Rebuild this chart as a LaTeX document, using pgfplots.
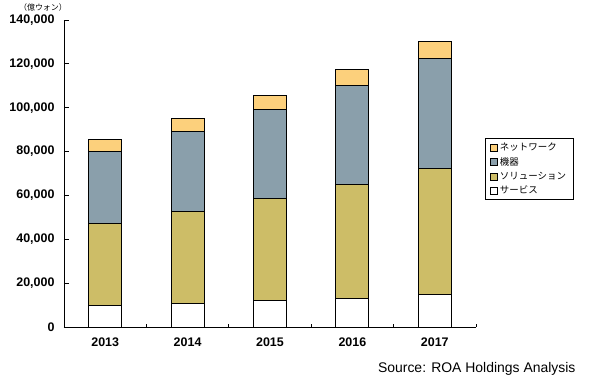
\documentclass[border=0pt]{standalone}
\usepackage{pgfplots}
\pgfplotsset{compat=1.18}
\usepackage{fontspec}
\setmainfont{Liberation Sans}
\newfontfamily\jp{Noto Sans CJK JP}
\definecolor{cnet}{RGB}{252,208,124}
\definecolor{cdev}{RGB}{138,159,171}
\definecolor{csol}{RGB}{205,189,103}
\begin{document}
\begin{tikzpicture}
\path[use as bounding box] (-64bp,-52bp) rectangle (525bp,327bp);
\begin{axis}[
  at={(0,0)}, anchor=south west,
  scale only axis, width=412bp, height=307bp,
  ybar stacked, bar width=33bp,
  xmin=-0.5, xmax=4.5, ymin=0, ymax=140000,
  axis lines*=left, axis line style={-, line width=0.9bp, black},
  tick align=inside,
  xtick={0,1,2,3,4}, xticklabels={2013,2014,2015,2016,2017},
  major x tick style={draw=none},
  minor xtick={0.5,1.5,2.5,3.5,4.5},
  minor tick length=3bp, major tick length=5bp,
  tick style={line width=0.9bp, black},
  ytick={0,20000,40000,60000,80000,100000,120000,140000},
  yticklabels={0,{20,000},{40,000},{60,000},{80,000},{100,000},{120,000},{140,000}},
  scaled y ticks=false,
  tick label style={font=\bfseries\fontsize{12.5}{13}\selectfont},
  xticklabel style={yshift=-7bp},
  yticklabel style={xshift=-6bp},
  legend style={at={(1,0.616)}, anchor=north west, xshift=9bp, draw=black, line width=0.8bp,
    font=\jp\fontsize{9.5}{10}\selectfont, inner xsep=5bp, inner ysep=2.5bp, row sep=1.3bp},
  legend cell align=left,
  reverse legend,
  legend image code/.code={\draw[#1,draw=black,line width=0.6bp] (0bp,-3.5bp) rectangle (7bp,3.5bp);},
]
\addplot[fill=white, draw=black, line width=0.9bp] coordinates {(0,10000) (1,10800) (2,12200) (3,13100) (4,14900)};
\addlegendentry{サービス}
\addplot[fill=csol, draw=black, line width=0.9bp] coordinates {(0,37300) (1,42000) (2,46500) (3,52000) (4,57450)};
\addlegendentry{ソリューション}
\addplot[fill=cdev, draw=black, line width=0.9bp] coordinates {(0,32800) (1,36200) (2,40600) (3,45100) (4,50150)};
\addlegendentry{機器}
\addplot[fill=cnet, draw=black, line width=0.9bp] coordinates {(0,5500) (1,6200) (2,6350) (3,7300) (4,7750)};
\addlegendentry{ネットワーク}
\end{axis}
\node[anchor=base east, font=\fontsize{14}{16}\selectfont] at (515bp,-45bp) {Source: ROA Holdings Analysis};
\node[font=\jp\fontsize{8}{9}\selectfont] at (-21bp,320bp) {（億ウォン）};
\end{tikzpicture}
\end{document}
